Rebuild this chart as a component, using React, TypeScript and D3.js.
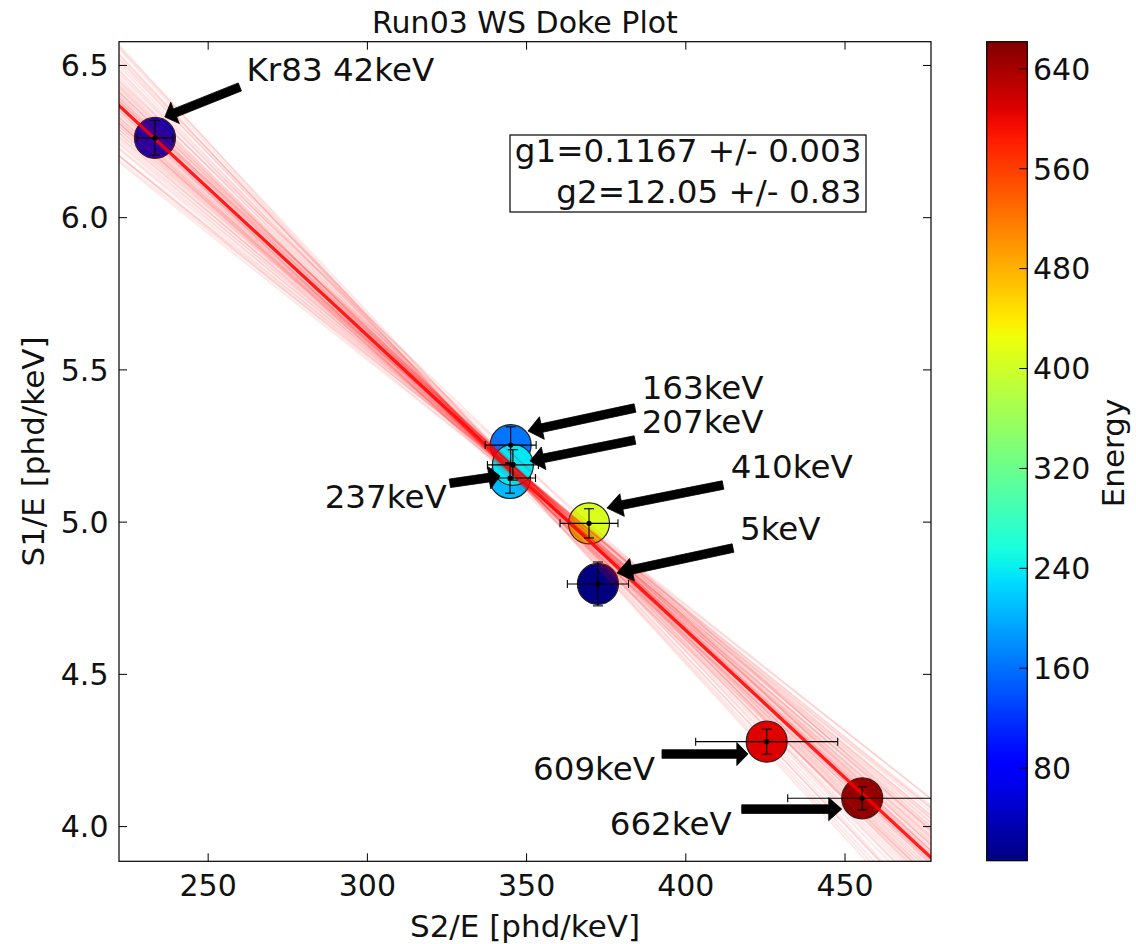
import React from 'react';
import * as d3 from 'd3';

// ---------- data ----------
const pointLabels = ['Kr83 42keV', '163keV', '207keV', '237keV', '410keV', '5keV', '609keV', '662keV'];
const energies = [41.5, 163.9, 207.0, 236.8, 409.5, 5.9, 609.3, 661.7];
const s2e = [233.3, 345.0, 344.8, 345.7, 369.6, 372.4, 425.4, 455.4];
const s1e = [6.262, 5.253, 5.145, 5.188, 4.996, 4.797, 4.279, 4.093];
const s2eErr = [5.6, 8.0, 8.0, 8.0, 9.1, 9.6, 22.3, 23.4];
const s1eErr = [0.057, 0.06, 0.05, 0.05, 0.048, 0.072, 0.041, 0.038];

const W_KEV = 0.0137;
const G1 = 0.1167;
const G1_ERR = 0.003;
const G2 = 12.05;
const G2_ERR = 0.83;

// posterior samples of (g1, g2) drawn as faint lines
const sampleG1 = [
  0.1104, 0.1108, 0.1112, 0.1115, 0.1118, 0.1121, 0.1124, 0.1127, 0.1129, 0.1131,
  0.1133, 0.1135, 0.1137, 0.1139, 0.1141, 0.1143, 0.1145, 0.1147, 0.1149, 0.1151,
  0.1153, 0.1155, 0.1157, 0.1159, 0.1161, 0.1163, 0.1165, 0.1167, 0.1169, 0.1171,
  0.1173, 0.1175, 0.1177, 0.1179, 0.1181, 0.1183, 0.1185, 0.1188, 0.1190, 0.1193,
  0.1196, 0.1199, 0.1202, 0.1205, 0.1208, 0.1212, 0.1215, 0.1219, 0.1223, 0.1228,
  0.1232, 0.1160, 0.1166, 0.1170, 0.1150, 0.1180, 0.1140, 0.1192, 0.1158, 0.1174,
  0.1098, 0.1100, 0.1236, 0.1242, 0.1247, 0.1102, 0.1238, 0.1160, 0.1175, 0.1185,
];
const sampleG2 = [
  13.20, 13.05, 13.08, 12.93, 12.97, 12.82, 12.86, 12.70, 12.78, 12.64,
  12.70, 12.55, 12.62, 12.49, 12.53, 12.42, 12.47, 12.35, 12.40, 12.28,
  12.34, 12.22, 12.27, 12.15, 12.21, 12.08, 12.13, 12.02, 12.07, 11.95,
  12.01, 11.88, 11.95, 11.82, 11.88, 11.76, 11.81, 11.68, 11.74, 11.62,
  11.66, 11.53, 11.59, 11.46, 11.50, 11.37, 11.43, 11.28, 11.30, 11.15,
  11.12, 12.22, 12.00, 12.05, 12.26, 11.90, 12.58, 11.66, 12.10, 11.98,
  13.35, 13.22, 11.05, 10.98, 10.92, 13.30, 11.10, 12.35, 11.80, 11.95,
];

const xTicks = [250, 300, 350, 400, 450];
const yTicks = [4.0, 4.5, 5.0, 5.5, 6.0, 6.5];
const cbTicks = [80, 160, 240, 320, 400, 480, 560, 640];

// annotations (data coordinates): text anchor, arrow tail, arrow tip
const annText = ['Kr83 42keV', '163keV', '207keV', '237keV', '410keV', '5keV', '609keV', '662keV'];
const annAnchor = ['start', 'start', 'start', 'end', 'start', 'start', 'end', 'end'];
const annTextX = [262.06, 386.14, 386.14, 324.89, 414.10, 417.02, 390.32, 414.41];
const annTextY = [6.4501, 5.4041, 5.2927, 5.0453, 5.1439, 4.9412, 4.1528, 3.9721];
const annTailX = [259.96, 384.04, 384.04, 325.92, 411.68, 414.82, 392.52, 417.55];
const annTailY = [6.4294, 5.3748, 5.2697, 5.1275, 5.1219, 4.9149, 4.2383, 4.0574];
const annTipX = [236.40, 350.43, 351.05, 341.63, 375.24, 378.38, 419.53, 448.96];
const annTipY = [6.3308, 5.2993, 5.2007, 5.1514, 5.0463, 4.8330, 4.2383, 4.0574];

// ---------- layout ----------
const FONT = 'DejaVu Sans';
const TXT = '#111';
const PL = 119, PR = 931, PT = 41.7, PB = 861.3;
const CBL = 986.7, CBR = 1027.3, CBT = 41.7, CBB = 860.7;

const x = d3.scaleLinear().domain([222, 477]).range([PL, PR]);
const y = d3.scaleLinear().domain([3.886, 6.578]).range([PB, PT]);

// jet colormap (matplotlib segment data)
const jetR = d3.scaleLinear().domain([0, 0.35, 0.66, 0.89, 1]).range([0, 0, 1, 1, 0.5]).clamp(true);
const jetG = d3.scaleLinear().domain([0, 0.125, 0.375, 0.64, 0.91, 1]).range([0, 0, 1, 1, 0, 0]).clamp(true);
const jetB = d3.scaleLinear().domain([0, 0.11, 0.34, 0.65, 1]).range([0.5, 1, 1, 0, 0]).clamp(true);
const jet = (t: number) => d3.rgb(jetR(t) * 255, jetG(t) * 255, jetB(t) * 255).formatHex();

const eExt = d3.extent(energies) as [number, number];
const cNorm = d3.scaleLinear().domain(eExt).range([0, 1]);
const cbY = d3.scaleLinear().domain(eExt).range([CBB, CBT]);

const lineGen = d3.line<number[]>().x((d) => x(d[0])).y((d) => y(d[1]));
const dokeLine = (g1: number, g2: number) => {
  const [x0, x1] = x.domain();
  const f = (s: number) => g1 / W_KEV - (g1 / g2) * s;
  return lineGen([[x0 - 5, f(x0 - 5)], [x1 + 5, f(x1 + 5)]]);
};

function arrowPath(tx: number, ty: number, px: number, py: number) {
  const dx = px - tx, dy = py - ty;
  const L = Math.hypot(dx, dy);
  const ux = dx / L, uy = dy / L;
  const nx = -uy, ny = ux;
  const w = 8.6 / 2, hw = 23 / 2;
  const hl = Math.max(0.13 * L, 11);
  const bx = px - ux * hl, by = py - uy * hl;
  const pts = [
    [tx + nx * w, ty + ny * w],
    [bx + nx * w, by + ny * w],
    [bx + nx * hw, by + ny * hw],
    [px, py],
    [bx - nx * hw, by - ny * hw],
    [bx - nx * w, by - ny * w],
    [tx - nx * w, ty - ny * w],
  ];
  return 'M' + pts.map((p) => p[0].toFixed(2) + ',' + p[1].toFixed(2)).join('L') + 'Z';
}

export default function App() {
  const order = d3.range(energies.length);
  const gradStops = d3.range(0, 1.0001, 0.02);
  const TL = 8; // tick length
  return (
    <svg
      width={1136}
      height={944}
      style={{ position: 'absolute', left: 0, top: 0, background: '#fff' }}
      fontFamily={FONT}
    >
      <defs>
        <clipPath id="plotClip">
          <rect x={PL} y={PT} width={PR - PL} height={PB - PT} />
        </clipPath>
        <linearGradient id="jetGrad" x1="0" y1="1" x2="0" y2="0">
          {gradStops.map((t) => (
            <stop key={t} offset={t} stopColor={jet(t)} />
          ))}
        </linearGradient>
      </defs>
      <rect x={0} y={0} width={1136} height={944} fill="#fff" />

      {/* title */}
      <text x={(PL + PR) / 2} y={33} textAnchor="middle" fontSize={30} fill={TXT}>
        Run03 WS Doke Plot
      </text>

      <g clipPath="url(#plotClip)">
        {/* scatter circles */}
        {order.map((i) => (
          <circle
            key={'c' + i}
            cx={x(s2e[i])}
            cy={y(s1e[i])}
            r={20.5}
            fill={jet(cNorm(energies[i]))}
            stroke="#222"
            strokeWidth={1.2}
          />
        ))}
        {/* sample lines */}
        {sampleG1.map((g1, i) => (
          <path
            key={'s' + i}
            d={dokeLine(g1, sampleG2[i]) as string}
            stroke="#ff0000"
            strokeOpacity={0.1}
            strokeWidth={1.7}
            fill="none"
          />
        ))}
        {/* best fit */}
        <path d={dokeLine(G1, G2) as string} stroke="#ff0000" strokeOpacity={0.85} strokeWidth={3.3} fill="none" />
        {/* error bars */}
        {order.map((i) => {
          const cx = x(s2e[i]);
          const cy = y(s1e[i]);
          const xl = x(s2e[i] - s2eErr[i]);
          const xr = x(s2e[i] + s2eErr[i]);
          const yt = y(s1e[i] + s1eErr[i]);
          const yb = y(s1e[i] - s1eErr[i]);
          return (
            <g key={'e' + i} stroke="#000" strokeWidth={1.1}>
              <line x1={xl} x2={xr} y1={cy} y2={cy} />
              <line x1={xl} x2={xl} y1={cy - 4} y2={cy + 4} />
              <line x1={xr} x2={xr} y1={cy - 4} y2={cy + 4} />
              <line x1={cx} x2={cx} y1={yt} y2={yb} />
              <line x1={cx - 5} x2={cx + 5} y1={yt} y2={yt} />
              <line x1={cx - 5} x2={cx + 5} y1={yb} y2={yb} />
              <circle cx={cx} cy={cy} r={2.6} fill="#000" stroke="none" />
            </g>
          );
        })}
      </g>

      {/* axes frame */}
      <rect x={PL} y={PT} width={PR - PL} height={PB - PT} fill="none" stroke="#000" strokeWidth={1.2} />
      {xTicks.map((t) => (
        <g key={'xt' + t}>
          <line x1={x(t)} x2={x(t)} y1={PB} y2={PB - TL} stroke="#000" strokeWidth={1} />
          <line x1={x(t)} x2={x(t)} y1={PT} y2={PT + TL} stroke="#000" strokeWidth={1} />
          <text x={x(t)} y={896} textAnchor="middle" fontSize={30} fill={TXT}>
            {d3.format('d')(t)}
          </text>
        </g>
      ))}
      {yTicks.map((t) => (
        <g key={'yt' + t}>
          <line x1={PL} x2={PL + TL} y1={y(t)} y2={y(t)} stroke="#000" strokeWidth={1} />
          <line x1={PR} x2={PR - TL} y1={y(t)} y2={y(t)} stroke="#000" strokeWidth={1} />
          <text x={108.5} y={y(t)} dy="0.36em" textAnchor="end" fontSize={30} fill={TXT}>
            {d3.format('.1f')(t)}
          </text>
        </g>
      ))}
      <text x={(PL + PR) / 2} y={937} textAnchor="middle" fontSize={31} fill={TXT}>
        S2/E [phd/keV]
      </text>
      <text
        transform={`translate(44,${(PT + PB) / 2}) rotate(-90)`}
        textAnchor="middle"
        fontSize={31}
        fill={TXT}
      >
        S1/E [phd/keV]
      </text>

      {/* annotations */}
      {annText.map((t, i) => (
        <g key={'a' + i}>
          <path d={arrowPath(x(annTailX[i]), y(annTailY[i]), x(annTipX[i]), y(annTipY[i]))} fill="#000" stroke="#000" strokeWidth={0.8} />
          <text x={x(annTextX[i])} y={y(annTextY[i])} textAnchor={annAnchor[i] as any} fontSize={32.5} fill={TXT}>
            {t}
          </text>
        </g>
      ))}

      {/* fit result box */}
      <rect x={510} y={135} width={356} height={77} fill="#fff" stroke="#000" strokeWidth={1.2} />
      <text x={861.5} y={161.5} textAnchor="end" fontSize={32.6} fill={TXT}>
        {`g1=${G1.toFixed(4)} +/- ${G1_ERR.toFixed(3)}`}
      </text>
      <text x={861.5} y={202.5} textAnchor="end" fontSize={32.6} fill={TXT}>
        {`g2=${G2.toFixed(2)} +/- ${G2_ERR.toFixed(2)}`}
      </text>

      {/* colorbar */}
      <rect x={CBL} y={CBT} width={CBR - CBL} height={CBB - CBT} fill="url(#jetGrad)" stroke="#000" strokeWidth={1.2} />
      {cbTicks.map((t) => (
        <g key={'cb' + t}>
          <line x1={CBR - 8} x2={CBR} y1={cbY(t)} y2={cbY(t)} stroke="#000" strokeWidth={1} />
          <text x={1033} y={cbY(t)} dy="0.36em" fontSize={30} fill={TXT}>
            {t}
          </text>
        </g>
      ))}
      <text transform={`translate(1124,453) rotate(-90)`} textAnchor="middle" fontSize={31} fill={TXT}>
        Energy
      </text>
    </svg>
  );
}
